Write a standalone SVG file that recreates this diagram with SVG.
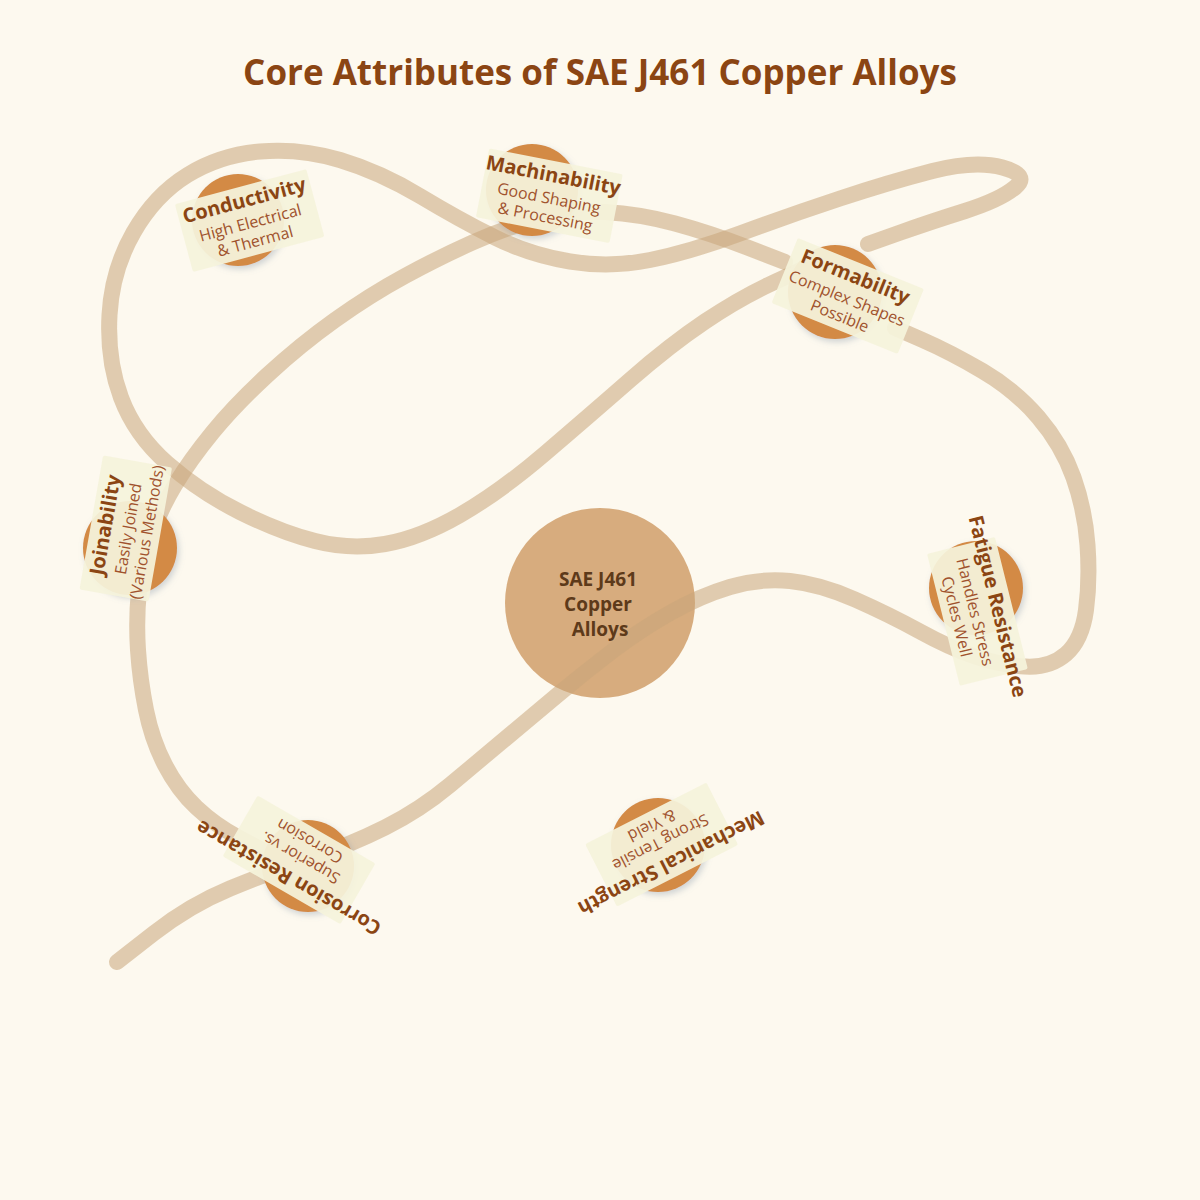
<svg xmlns="http://www.w3.org/2000/svg" width="1200" height="1200" viewBox="0 0 1200 1200">
  <defs>
    <filter id="sh" x="-30%" y="-30%" width="160%" height="160%">
      <feDropShadow dx="2" dy="3" stdDeviation="3" flood-color="#7a8aa0" flood-opacity="0.35"/>
    </filter>
    <style>
      .title { font-family: "Open Sans", "Noto Sans", sans-serif; font-weight: 700; font-size: 35px; fill: #8b4513; text-anchor: middle; }
      .conn { fill: none; stroke: #c8a57a; stroke-opacity: 0.55; stroke-width: 16; stroke-linecap: round; stroke-linejoin: round; }
      .hub { fill: #d7ac7e; }
      .hubtxt { font-family: "Open Sans", "Noto Sans", sans-serif; font-weight: 700; font-size: 19px; fill: #5d3a1a; text-anchor: middle; }
      .dot { fill: #d38a45; filter: url(#sh); }
      .card { fill: #f5f3dc; fill-opacity: 0.93; }
      .nt { font-family: "Open Sans", "Noto Sans", sans-serif; font-weight: 700; font-size: 20px; fill: #8b4513; text-anchor: middle; }
      .ns { font-family: "Open Sans", "Noto Sans", sans-serif; font-size: 16px; fill: #a0522d; text-anchor: middle; }
    </style>
  </defs>
  <rect width="1200" height="1200" fill="#fdf9ef"/>
  <text class="title" x="600" y="85">Core Attributes of SAE J461 Copper Alloys</text>

  <g id="center">
    <circle class="hub" cx="600" cy="603" r="95"/>
  </g>

  <g id="connectors">
    <path class="conn" d="M117,962 L153.5,933.5 Q190,905 230,888.5 Q270,872 310,858.5 Q350,845 385,827.5 Q420,810 450,785 Q480,760 505,739 Q530,718 557.5,695 Q585,672 612.5,651 Q640,630 670,613 Q700,596 730,587 Q760,578 790,581 Q820,584 855,599.5 Q890,615 920,631.5 Q950,648 975,656.5 Q1000,665 1025,666.5 Q1050,668 1066,654 Q1082,640 1086,610 Q1090,580 1087.5,545 Q1085,510 1073.5,477.5 Q1062,445 1038.5,417.5 Q1015,390 982.5,371 Q950,352 922.5,340 L895,328"/>
    <path class="conn" d="M805,268 L772.5,283 Q740,298 705,321.5 Q670,345 630,380 Q590,415 545,453.5 Q500,492 460,515 Q420,538 385,544 Q350,550 315,541 Q280,532 240,512 Q200,492 167.5,463.5 Q135,435 121,397.5 Q107,360 109.5,315 Q112,270 133.5,232.5 Q155,195 187.5,175 Q220,155 260,151.5 Q300,148 340,160 Q380,172 420,196 Q460,220 495,237.5 Q530,255 570,261.5 Q610,268 650,260 Q690,252 740,233.5 Q790,215 840,198.5 Q890,182 932.5,171 Q975,160 1002.5,167.5 Q1030,175 1015,187.5 Q1000,200 965,211 Q930,222 899,233 L868,244"/>
    <path class="conn" d="M262,850 L238.5,837.5 Q215,825 196.5,807.5 Q178,790 165,765 Q152,740 146,710 Q140,680 138,650 Q136,620 139,590 Q142,560 151,535 Q160,510 175,485 Q190,460 212.5,432.5 Q235,405 267.5,375 Q300,345 335,320 Q370,295 405,276 Q440,257 472.5,242.5 Q505,228 537.5,219 Q570,210 605,212 Q640,214 675,223.5 Q710,233 747.5,247.5 L785,262"/>
  </g>

  <g id="center-label">
    <text class="hubtxt" x="598" y="586">SAE J461</text>
    <text class="hubtxt" x="598" y="611">Copper</text>
    <text class="hubtxt" x="600" y="636">Alloys</text>
  </g>

  <g id="node-conductivity">
    <circle class="dot" cx="238" cy="220" r="46"/>
    <g transform="translate(246,207) rotate(-15)">
      <rect class="card" x="-68" y="-21" width="136" height="70" rx="2"/>
      <text class="nt" x="0" y="0">Conductivity</text>
      <text class="ns" x="0" y="22">High Electrical</text>
      <text class="ns" x="0" y="41">&amp; Thermal</text>
    </g>
  </g>

  <g id="node-machinability">
    <circle class="dot" cx="532" cy="190" r="46"/>
    <g transform="translate(552,182) rotate(11)">
      <rect class="card" x="-68" y="-21" width="136" height="70" rx="2"/>
      <text class="nt" x="0" y="0">Machinability</text>
      <text class="ns" x="0" y="22">Good Shaping</text>
      <text class="ns" x="0" y="41">&amp; Processing</text>
    </g>
  </g>

  <g id="node-formability">
    <circle class="dot" cx="835" cy="292" r="47"/>
    <g transform="translate(853,283) rotate(22)">
      <rect class="card" x="-68" y="-21" width="136" height="70" rx="2"/>
      <text class="nt" x="0" y="0">Formability</text>
      <text class="ns" x="0" y="22">Complex Shapes</text>
      <text class="ns" x="0" y="41">Possible</text>
    </g>
  </g>

  <g id="node-fatigue">
    <circle class="dot" cx="976" cy="588" r="47"/>
    <g transform="translate(991,608) rotate(76)">
      <rect class="card" x="-68" y="-21" width="136" height="70" rx="2"/>
      <text class="nt" x="0" y="0">Fatigue Resistance</text>
      <text class="ns" x="0" y="22">Handles Stress</text>
      <text class="ns" x="0" y="41">Cycles Well</text>
    </g>
  </g>

  <g id="node-mechanical">
    <circle class="dot" cx="658" cy="845" r="47"/>
    <g transform="translate(668,857) rotate(153)">
      <rect class="card" x="-68" y="-21" width="136" height="70" rx="2"/>
      <text class="nt" x="0" y="0">Mechanical Strength</text>
      <text class="ns" x="0" y="22">Strong Tensile</text>
      <text class="ns" x="0" y="41">&amp; Yield</text>
    </g>
  </g>

  <g id="node-corrosion">
    <circle class="dot" cx="308" cy="866" r="46"/>
    <g transform="translate(292,872) rotate(210)">
      <rect class="card" x="-68" y="-21" width="136" height="70" rx="2"/>
      <text class="nt" x="0" y="0">Corrosion Resistance</text>
      <text class="ns" x="0" y="22">Superior vs.</text>
      <text class="ns" x="0" y="41">Corrosion</text>
    </g>
  </g>

  <g id="node-joinability">
    <circle class="dot" cx="130" cy="548" r="47"/>
    <g transform="translate(112,526) rotate(-80)">
      <rect class="card" x="-68" y="-21" width="136" height="70" rx="2"/>
      <text class="nt" x="0" y="0">Joinability</text>
      <text class="ns" x="0" y="22">Easily Joined</text>
      <text class="ns" x="0" y="41">(Various Methods)</text>
    </g>
  </g>
</svg>
